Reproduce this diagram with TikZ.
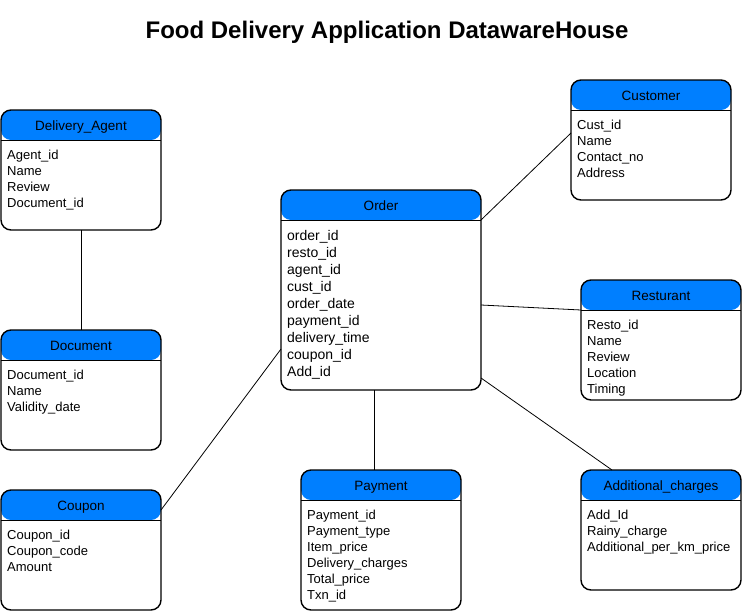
\documentclass[tikz,border=0pt]{standalone}
\usepackage{fontspec}
\setmainfont{Liberation Sans}
\usetikzlibrary{positioning}
\definecolor{hdrblue}{HTML}{007FFF}

\begin{document}
\begin{tikzpicture}[x=1pt,y=-1pt,
entity/.style={draw, line width=1.4pt, rounded corners=10pt, fill=white,
  anchor=north west, minimum width=160pt, inner sep=0pt, outer sep=0pt,
  path picture={
    \fill[hdrblue] (path picture bounding box.north west) rectangle ([yshift=-30pt]path picture bounding box.north east);
    \draw[line width=1pt] ([yshift=-30pt]path picture bounding box.north west) -- ([yshift=-30pt]path picture bounding box.north east);}},
enttitle/.style={font=\fontsize{13.5}{16}\selectfont, inner sep=0pt, anchor=base},
entfields/.style={font=\fontsize{13}{16}\selectfont, align=left, anchor=north west, inner sep=0pt},
link/.style={line width=0.8pt}]

\useasboundingbox (0,0) rectangle (742,611);

\node[font=\bfseries\fontsize{24}{28}\selectfont, anchor=base] (heading) at (387,38.5) {Food Delivery Application DatawareHouse};

% left column
\node[entity, minimum height=120pt] (agent) at (1,110) {};
\node[enttitle] (agent-t) at ([yshift=-20pt]agent.north) {Delivery\_Agent};
\node[entfields] (agent-f) at ([xshift=6pt,yshift=-40pt]agent.north west) {Agent\_id\\Name\\Review\\Document\_id};

\node[entity, minimum height=120pt] (doc) at (1,330) {};
\node[enttitle] (doc-t) at ([yshift=-20pt]doc.north) {Document};
\node[entfields] (doc-f) at ([xshift=6pt,yshift=-40pt]doc.north west) {Document\_id\\Name\\Validity\_date};

\node[entity, minimum height=120pt] (coupon) at (1,490) {};
\node[enttitle] (coupon-t) at ([yshift=-20pt]coupon.north) {Coupon};
\node[entfields] (coupon-f) at ([xshift=6pt,yshift=-40pt]coupon.north west) {Coupon\_id\\Coupon\_code\\Amount};

% fact table
\node[entity, minimum width=200pt, minimum height=200pt] (order) at (281,190) {};
\node[enttitle] (order-t) at ([yshift=-20pt]order.north) {Order};
\node[entfields, font=\fontsize{14}{17}\selectfont] (order-f) at ([xshift=6pt,yshift=-40pt]order.north west) {order\_id\\resto\_id\\agent\_id\\cust\_id\\order\_date\\payment\_id\\delivery\_time\\coupon\_id\\Add\_id};

\node[entity, minimum height=140pt] (pay) at (301,470) {};
\node[enttitle] (pay-t) at ([yshift=-20pt]pay.north) {Payment};
\node[entfields] (pay-f) at ([xshift=6pt,yshift=-40pt]pay.north west) {Payment\_id\\Payment\_type\\Item\_price\\Delivery\_charges\\Total\_price\\Txn\_id};

% right column
\node[entity, minimum height=120pt] (cust) at (571,80) {};
\node[enttitle] (cust-t) at ([yshift=-20pt]cust.north) {Customer};
\node[entfields] (cust-f) at ([xshift=6pt,yshift=-40pt]cust.north west) {Cust\_id\\Name\\Contact\_no\\Address};

\node[entity, minimum height=120pt] (resto) at (581,280) {};
\node[enttitle] (resto-t) at ([yshift=-20pt]resto.north) {Resturant};
\node[entfields] (resto-f) at ([xshift=6pt,yshift=-40pt]resto.north west) {Resto\_id\\Name\\Review\\Location\\Timing};

\node[entity, minimum height=120pt] (addl) at (581,470) {};
\node[enttitle] (addl-t) at ([yshift=-20pt]addl.north) {Additional\_charges};
\node[entfields] (addl-f) at ([xshift=6pt,yshift=-40pt]addl.north west) {Add\_Id\\Rainy\_charge\\Additional\_per\_km\_price};

% links
\draw[link] (agent) -- (doc);
\draw[link] ([yshift=-30pt]order.north east) -- ([yshift=-53pt]cust.north west);
\draw[link] ([yshift=-115pt]order.north east) -- ([yshift=-30pt]resto.north west);
\draw[link] ([yshift=-188pt]order.north east) -- ([xshift=31pt]addl.north west);
\draw[link] ([xshift=93pt]order.south west) -- ([xshift=73pt]pay.north west);
\draw[link] ([yshift=-159pt]order.north west) -- ([yshift=-20pt]coupon.north east);

\end{tikzpicture}
\end{document}
